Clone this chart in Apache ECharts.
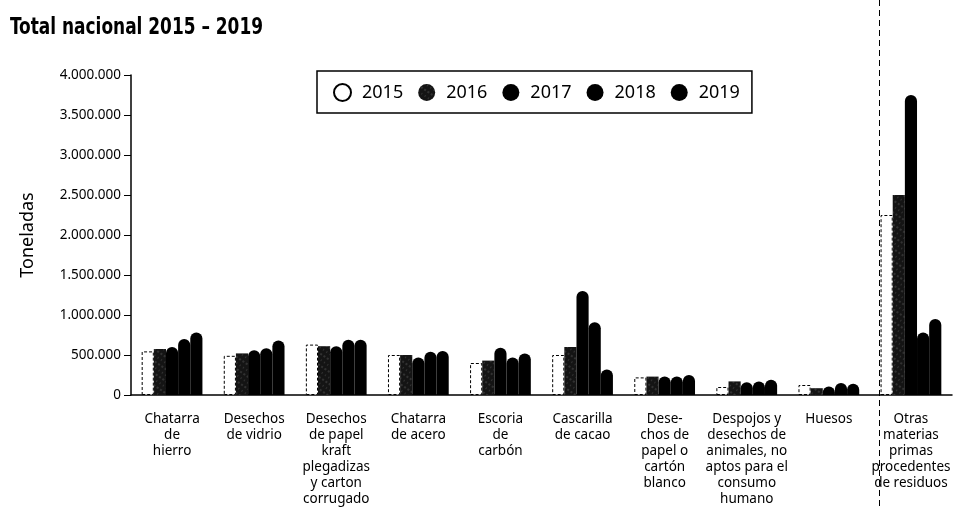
<!DOCTYPE html>
<html>
<head>
<meta charset="utf-8">
<script src="https://cdn.jsdelivr.net/npm/echarts@6/dist/echarts.min.js"></script>
<style>
  html, body { margin: 0; padding: 0; background: #fff; }
  #chart { width: 957px; height: 508px; }
</style>
</head>
<body>
<div id="chart"></div>
<script>
// categorias (con saltos de linea como en el grafico)
var categories = [
    'Chatarra\nde\nhierro',
    'Desechos\nde vidrio',
    'Desechos\nde papel\nkraft\nplegadizas\ny carton\ncorrugado',
    'Chatarra\nde acero',
    'Escoria\nde\ncarbón',
    'Cascarilla\nde cacao',
    'Dese-\nchos de\npapel o\ncartón\nblanco',
    'Despojos y\ndesechos de\nanimales, no\naptos para el\nconsumo\nhumano',
    'Huesos',
    'Otras\nmaterias\nprimas\nprocedentes\nde residuos'
];
var years = ['2015', '2016', '2017', '2018', '2019'];

// toneladas por año
var v2015 = [545000, 490000, 630000, 500000, 400000, 500000, 220000, 100000, 125000, 2250000];
var v2016 = [575000, 520000, 610000, 500000, 430000, 600000, 230000, 170000, 85000, 2500000];
var v2017 = [600000, 560000, 610000, 470000, 590000, 1300000, 230000, 160000, 105000, 3750000];
var v2018 = [700000, 585000, 690000, 540000, 470000, 910000, 230000, 170000, 150000, 780000];
var v2019 = [780000, 680000, 690000, 550000, 520000, 320000, 250000, 190000, 140000, 950000];

var yTicks = [0, 500000, 1000000, 1500000, 2000000, 2500000, 3000000, 3500000, 4000000];

var chart = echarts.init(document.getElementById('chart'));

var textFont = 'Noto Sans, sans-serif';

function fmt(v) {
    return String(v).replace(/\B(?=(\d{3})+(?!\d))/g, '.');
}

var blackStyle = {color: '#000', borderRadius: [6, 6, 0, 0]};
var catGap = 0.26;

var option = {
    animation: false,
    backgroundColor: '#fff',
    legend: {
        data: years,
        left: 317,
        top: 71,
        padding: [12, 12, 11, 16],
        borderColor: '#000',
        borderWidth: 1.5,
        borderRadius: 0,
        itemWidth: 17,
        itemHeight: 17,
        itemGap: 15,
        icon: 'circle',
        textStyle: {
            fontSize: 18,
            color: '#000',
            fontFamily: textFont,
            padding: [0, 0, 0, 6]
        }
    },
    grid: {
        left: 131,
        right: 5,
        top: 75,
        bottom: 113,
        containLabel: false
    },
    xAxis: {
        type: 'category',
        data: categories,
        axisLine: {show: true, lineStyle: {color: '#000', width: 1.5}},
        axisTick: {show: false},
        axisLabel: {
            interval: 0,
            margin: 16,
            color: '#000',
            fontSize: 13.5,
            lineHeight: 16,
            fontFamily: textFont,
            align: 'center'
        }
    },
    yAxis: {
        type: 'value',
        min: 0,
        max: 4000000,
        interval: 500000,
        name: 'Toneladas',
        nameLocation: 'middle',
        nameGap: 94,
        nameRotate: 90,
        nameTextStyle: {
            fontSize: 18,
            color: '#000',
            fontFamily: textFont
        },
        axisLine: {show: true, lineStyle: {color: '#000', width: 1.5}},
        axisTick: {show: true, inside: false, length: 7, lineStyle: {color: '#000'}},
        splitLine: {show: false},
        axisLabel: {
            color: '#000',
            fontSize: 13.5,
            margin: 10,
            fontFamily: textFont,
            formatter: function (v) {
                return yTicks.indexOf(v) >= 0 ? fmt(v) : '';
            }
        }
    },
    series: [
        {
            name: '2015', type: 'bar', data: v2015,
            barGap: '0%', barCategoryGap: (catGap * 100) + '%',
            itemStyle: {color: '#fff', borderColor: '#000', borderWidth: 1, borderType: [3, 2]}
        },
        {
            name: '2016', type: 'bar', data: v2016,
            itemStyle: {
                color: '#141414',
                borderWidth: 0,
                decal: {
                    symbol: 'rect',
                    symbolSize: 0.5,
                    color: 'rgba(255,255,255,0.5)',
                    dashArrayX: [[1, 3], [2, 2]],
                    dashArrayY: [2, 3],
                    rotation: 0.6
                }
            }
        },
        {name: '2017', type: 'bar', data: v2017, itemStyle: blackStyle},
        {name: '2018', type: 'bar', data: v2018, itemStyle: blackStyle},
        {name: '2019', type: 'bar', data: v2019, itemStyle: blackStyle}
    ]
};

chart.setOption(option);

// linea discontinua que separa "Otras materias primas"
var last = categories.length - 1;
var cLast = chart.convertToPixel({xAxisIndex: 0}, categories[last]);
var cPrev = chart.convertToPixel({xAxisIndex: 0}, categories[last - 1]);
var band = cLast - cPrev;
var sepX = Math.round(cLast - band * (1 - catGap) / 2) - 1.5;

chart.setOption({
    graphic: [
        {
            type: 'text',
            left: 10,
            top: 17,
            scaleX: 0.82,
            style: {
                text: 'Total nacional 2015 – 2019',
                fontFamily: 'DejaVu Sans Condensed, sans-serif',
                fontWeight: 'bold',
                fontSize: 23,
                fill: '#000'
            }
        },
        {
            type: 'line',
            shape: {x1: sepX, y1: 0, x2: sepX, y2: 508},
            style: {stroke: '#000', lineWidth: 1, lineDash: [6, 4]},
            z: 0
        }
    ]
});
</script>
</body>
</html>
